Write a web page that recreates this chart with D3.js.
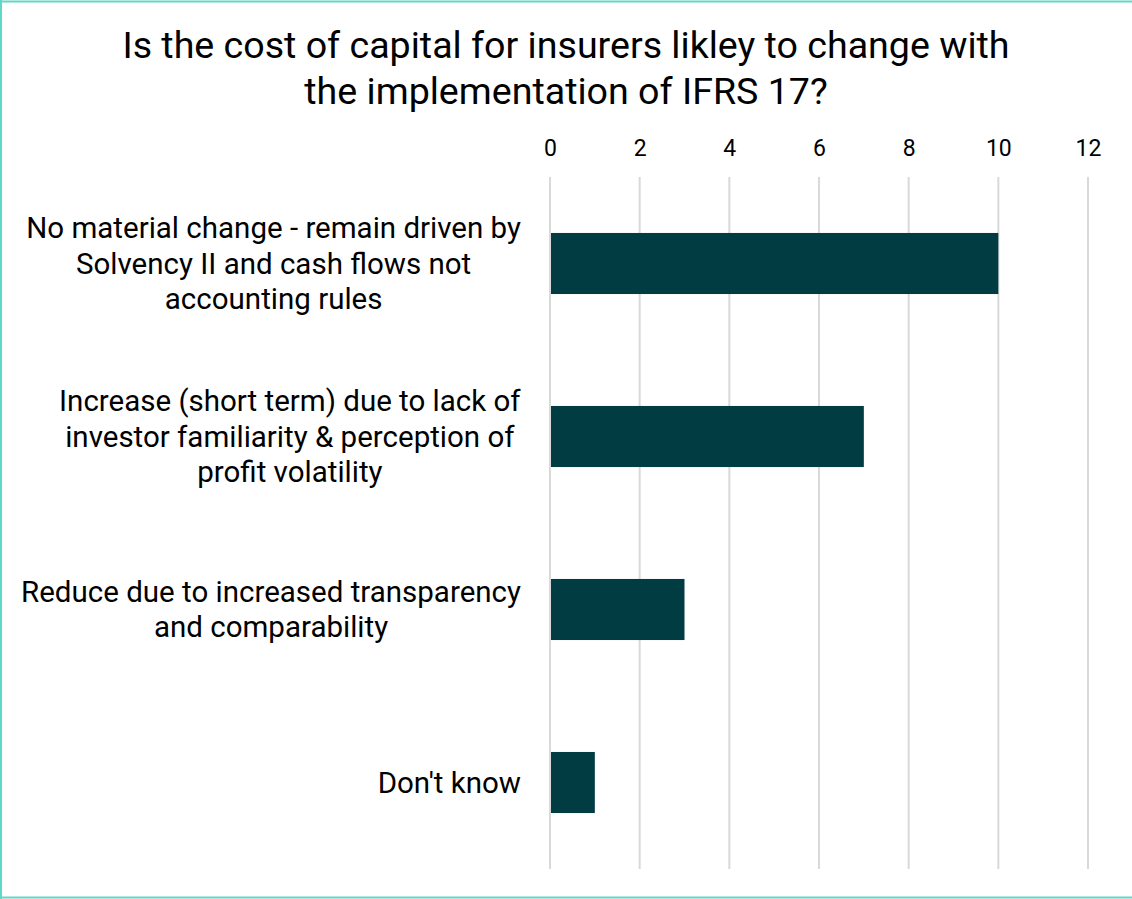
<!DOCTYPE html>
<html>
<head>
<meta charset="utf-8">
<script src="https://cdn.jsdelivr.net/npm/d3@7"></script>
<style>
  html, body { margin: 0; padding: 0; background: #fff; }
  svg { display: block; }
  text { font-family: Roboto, "Noto Sans", sans-serif; fill: #000; }
</style>
</head>
<body>
<svg id="chart" width="1132" height="899"></svg>
<script>
// Survey responses
const categories = [
  ["No material change - remain driven by", "Solvency II and cash flows not", "accounting rules"],
  ["Increase (short term) due to lack of", "investor familiarity & perception of", "profit volatility"],
  ["Reduce due to increased transparency", "and comparability"],
  ["Don't know"]
];
const values = [10, 7, 3, 1];
const tickValues = [0, 2, 4, 6, 8, 10, 12];
const titleLines = [
  "Is the cost of capital for insurers likley to change with",
  "the implementation of IFRS 17?"
];

const W = 1132, H = 899;
const svg = d3.select("#chart");

// Frame: teal rule on the top, left and bottom edges
svg.append("line").attr("x1", 0).attr("x2", W).attr("y1", 1.5).attr("y2", 1.5)
  .attr("stroke", "#5fd8c6").attr("stroke-width", 2);
svg.append("line").attr("x1", 1).attr("x2", 1).attr("y1", 0).attr("y2", H)
  .attr("stroke", "#5fd8c6").attr("stroke-width", 2);
svg.append("line").attr("x1", 0).attr("x2", W).attr("y1", 897.5).attr("y2", 897.5)
  .attr("stroke", "#5fd8c6").attr("stroke-width", 2);

// Title
const title = svg.append("text")
  .attr("text-anchor", "middle")
  .attr("font-size", 37.6);
titleLines.forEach((t, i) => {
  title.append("tspan").attr("x", 566).attr("y", 58 + i * 46).text(t);
});

const plot = { left: 550, right: 1088, top: 177, bottom: 869 };

const x = d3.scaleLinear().domain([0, 12]).range([plot.left, plot.right]);
const y = d3.scaleBand()
  .domain(d3.range(categories.length))
  .range([plot.top, plot.bottom])
  .paddingInner(0.647)
  .paddingOuter(0.3235);

// Vertical gridlines
svg.append("g")
  .selectAll("line")
  .data(tickValues)
  .join("line")
  .attr("x1", d => x(d)).attr("x2", d => x(d))
  .attr("y1", plot.top).attr("y2", plot.bottom)
  .attr("stroke", "#d9d9d9").attr("stroke-width", 2);

// Top axis labels
const axis = d3.axisTop(x).tickValues(tickValues).tickSize(0).tickPadding(0);
const gAxis = svg.append("g").attr("transform", `translate(0, ${155.5})`).call(axis);
gAxis.select(".domain").remove();
gAxis.selectAll("text")
  .attr("font-size", 23)
  .attr("font-family", "Roboto, 'Noto Sans', sans-serif")
  .attr("fill", "#000");

// Bars
svg.append("g")
  .selectAll("rect")
  .data(values)
  .join("rect")
  .attr("x", x(0) + 1)
  .attr("y", (d, i) => y(i))
  .attr("width", d => x(d) - x(0) - 1)
  .attr("height", y.bandwidth())
  .attr("fill", "#023c43");

// Category labels: centred block, right-aligned to the plot edge
const lineH = 35.5;
const labelRight = 521;
categories.forEach((lines, i) => {
  const cy = y(i) + y.bandwidth() / 2;
  const g = svg.append("g");
  const t = g.append("text").attr("font-size", 29.5).attr("text-anchor", "middle");
  lines.forEach((ln, j) => {
    t.append("tspan")
      .attr("x", 0)
      .attr("y", cy + (j - (lines.length - 1) / 2) * lineH + 10)
      .text(ln);
  });
  const bb = t.node().getBBox();
  t.attr("transform", `translate(${labelRight - bb.width / 2}, 0)`);
});
</script>
</body>
</html>
